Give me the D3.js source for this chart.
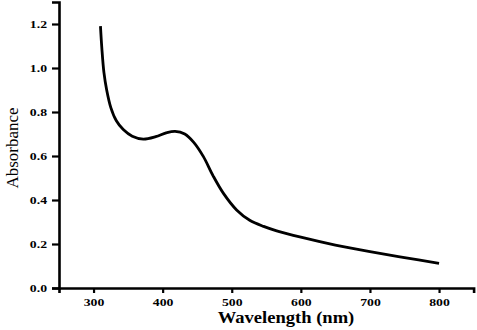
<!DOCTYPE html>
<html>
<head>
<meta charset="utf-8">
<script src="https://cdn.jsdelivr.net/npm/d3@7"></script>
<style>
  body { margin: 0; background: #fff; }
  svg text { font-family: "Liberation Serif", "Times New Roman", serif; }
</style>
</head>
<body>
<div id="chart"></div>
<script>
// spectrum
const wavelength = [310, 312, 315, 319, 325, 333, 343, 356, 372, 390, 405, 418, 432, 445, 459, 473, 488, 507, 526, 546, 565, 600, 650, 700, 750, 800];
const absorbance = [1.19, 1.09, 0.98, 0.90, 0.82, 0.76, 0.72, 0.69, 0.677, 0.688, 0.705, 0.712, 0.70, 0.662, 0.597, 0.51, 0.43, 0.355, 0.308, 0.28, 0.26, 0.231, 0.195, 0.165, 0.138, 0.112];
const xTicks = [300, 400, 500, 600, 700, 800];
const yTicks = [0, 0.2, 0.4, 0.6, 0.8, 1.0, 1.2];

const W = 477, H = 330;
const margin = { top: 2, right: 3, bottom: 42, left: 59 };
const stretch = 1.25; // the reference text is a bit wide

const svg = d3.select("#chart")
  .append("svg")
  .attr("width", W)
  .attr("height", H);

const x = d3.scaleLinear()
  .domain([250, 850])
  .range([margin.left, margin.left + 600 * 0.691]);

const y = d3.scaleLinear()
  .domain([0, 1.3])
  .range([288, 288 - 1.3 * 220]);

// x axis
const gx = svg.append("g")
  .attr("transform", `translate(0, ${y(0)})`)
  .call(d3.axisBottom(x).tickValues(xTicks).tickSize(5).tickPadding(5).tickFormat(d3.format("d")));
gx.select(".domain").attr("stroke-width", 2.6);
gx.selectAll(".tick line").attr("stroke-width", 2.2);
gx.selectAll("text")
  .attr("transform", `scale(${stretch},1)`)
  .style("font-size", "11px")
  .style("font-weight", "bold")
  .attr("fill", "#000");

// y axis
const gy = svg.append("g")
  .attr("transform", `translate(${x(250)}, 0)`)
  .call(d3.axisLeft(y).tickValues(yTicks).tickSize(7).tickPadding(5).tickFormat(d3.format(".1f")));
gy.select(".domain").attr("stroke-width", 2.6);
gy.selectAll(".tick line").attr("stroke-width", 2.2);
gy.selectAll("text")
  .attr("x", -12 / stretch)
  .attr("transform", `scale(${stretch},1)`)
  .style("font-size", "11px")
  .style("font-weight", "bold")
  .attr("fill", "#000");

// axis titles
svg.append("text")
  .attr("transform", `translate(286, 323) scale(1.16,1)`)
  .attr("text-anchor", "middle")
  .style("font-size", "16px")
  .style("font-weight", "bold")
  .text("Wavelength (nm)");

svg.append("text")
  .attr("transform", `translate(18, 148) rotate(-90)`)
  .attr("text-anchor", "middle")
  .style("font-size", "17px")
  .text("Absorbance");

// curve
const line = d3.line()
  .x((d, i) => x(wavelength[i]))
  .y(d => y(d))
  .curve(d3.curveCatmullRom.alpha(0.5));

svg.append("path")
  .datum(absorbance)
  .attr("fill", "none")
  .attr("stroke", "#000")
  .attr("stroke-width", 2.8)
  .attr("d", line);
</script>
</body>
</html>
